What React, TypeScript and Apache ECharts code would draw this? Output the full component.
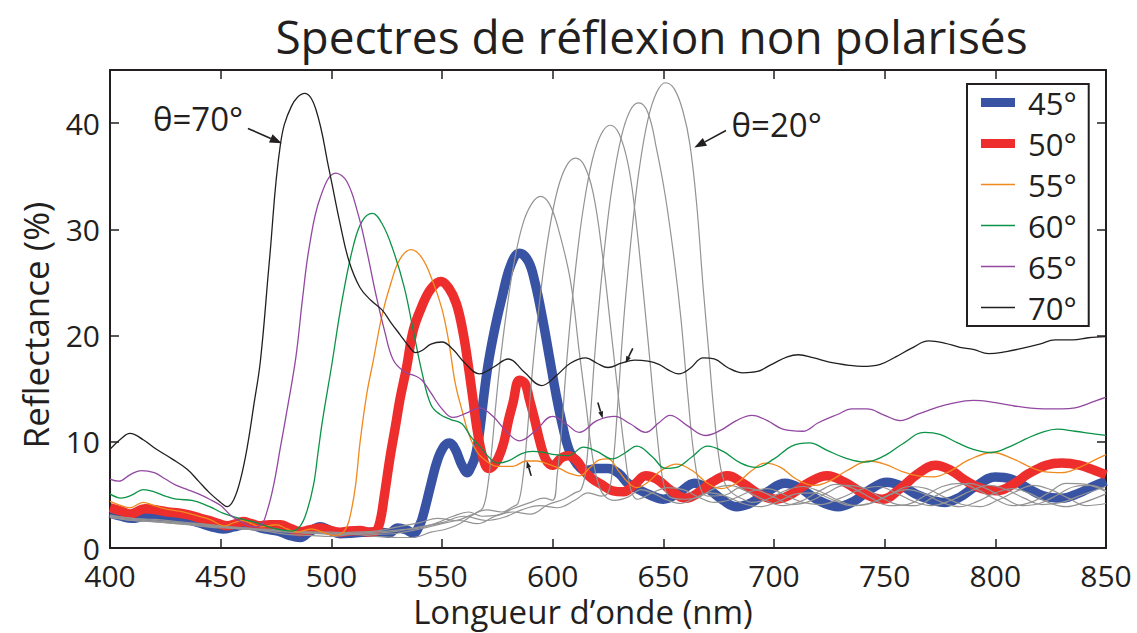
import React, { useEffect, useRef } from "react";
import * as echarts from "echarts";

const FONT = "'Open Sans', 'Noto Sans', 'DejaVu Sans', sans-serif";
const INK = "#231f20";

const titleText = "Spectres de réflexion non polarisés";
const xName = "Longueur d’onde (nm)";
const yName = "Reflectance (%)";
const xTickValues = [400, 450, 500, 550, 600, 650, 700, 750, 800, 850];
const yTickValues = [0, 10, 20, 30, 40];
const yMax = 45;
const legendLabels = ["45°", "50°", "55°", "60°", "65°", "70°"];
const grayLabels = ["20°", "25°", "30°", "35°", "40°"];

type P = [number, number];

const r45: P[] = [[400,3.3],[405,3.0],[410,2.8],[416,3.0],[422,2.9],[428,2.8],[433,2.75],[440,2.4],[446,2.0],[451,1.8],[456,2.0],[461,2.2],[465,2.1],[470,1.8],[476,1.6],[481,1.2],[486,1.0],[490,1.5],[495,2.0],[499,1.7],[504,1.35],[509,1.4],[514,1.5],[518,1.5],[522,1.5],[526,1.4],[530,1.9],[534,1.7],[537,1.4],[540,2.2],[542,3.5],[545,6.0],[548,8.3],[551,9.6],[553.5,9.9],[556,9.3],[559,7.8],[561.5,7.1],[563,7.6],[565,8.6],[567,11.0],[569,14.5],[571,17.5],[574,20.8],[577,23.5],[581,26.6],[585,27.75],[589,27.0],[592,25.0],[595.5,21.5],[598.5,18],[601.5,14.5],[604.5,11.5],[607.5,9.2],[611,7.9],[615,7.3],[620,7.5],[625,7.5],[630,7.0],[634,6.1],[639,5.5],[644,5.0],[650,4.6],[657,5.2],[664,6.1],[670,5.6],[677,4.5],[683,3.9],[690,4.3],[697,5.3],[705,6.1],[712,5.6],[720,4.5],[729,3.9],[736,4.4],[744,5.6],[751,6.2],[758,5.8],[766,4.9],[777,4.3],[784,4.8],[791,5.8],[800,6.7],[807,6.5],[815,5.6],[822,4.9],[830,4.7],[838,5.2],[844,5.8],[850,6.3]];

const r50: P[] = [[400,3.8],[405,3.5],[409,3.2],[416,3.7],[421,3.6],[426,3.4],[431,3.3],[436,3.1],[441,2.8],[445,2.6],[449,2.3],[453,2.1],[457,2.3],[460,2.5],[464,2.3],[468,2.1],[472,2.2],[477,2.2],[481,1.9],[486,1.55],[490,1.7],[495,1.9],[499,1.7],[504,1.5],[508,1.6],[513,1.65],[517,1.5],[520,1.6],[522,2.5],[524,5],[526.5,8.5],[529,11.5],[531,14],[534,17],[537,20.5],[541,22.8],[545,24.4],[549.5,25.1],[553,24.5],[556.5,23],[559.5,20.3],[562,17],[564,14],[566,11],[568.5,8.5],[571,7.5],[573,7.7],[575.5,8.5],[578,10],[580,12],[582,13.6],[585,15.8],[587.5,15.5],[589.5,14],[592,12],[594,10.2],[597,8.3],[600,7.8],[604,8.5],[607,8.7],[611,8.2],[614,7.3],[618,6.5],[622,6.0],[627,5.4],[632,5.3],[637,6.0],[642,6.8],[647,6.5],[653,5.5],[660,4.7],[665,5.1],[672,6.2],[679,6.8],[686,6.1],[694,5.0],[701,4.6],[708,5.1],[716,6.2],[724,6.8],[732,6.2],[740,5.2],[749,4.6],[757,5.6],[765,7.0],[773,7.8],[780,7.3],[787,6.3],[794,5.6],[801,5.4],[808,6.0],[815,7.0],[823,7.8],[830,8.0],[838,7.8],[845,7.3],[850,6.9]];

const r55: P[] = [[400,4.4],[405,4.0],[409,3.8],[415,4.3],[420,4.0],[425,3.7],[433,3.4],[440,3.0],[445,2.7],[452,2.1],[456,2.4],[460,2.6],[464,2.3],[468,2.0],[475,2.2],[480,1.8],[484,1.5],[491,1.8],[496,1.5],[501,1.2],[504,1.3],[507,2.0],[509,3.5],[511,6],[513,10],[516,14.5],[519,17.7],[523,22.0],[527,25],[531,27.2],[536,28.1],[541,27.3],[546,25.0],[550,22.5],[553,19.5],[556,15.5],[559,13],[562,10.8],[566,9.0],[570,8.2],[575,7.7],[582,7.7],[588,8.2],[593,8.2],[598,7.9],[603,7.5],[608,7.0],[612,6.8],[617,7.6],[621,8.3],[625,8.4],[630,7.2],[634,6.2],[638,5.7],[643,6.2],[649,7.3],[656,7.9],[663,7.3],[670,6.1],[676,5.6],[683,6.1],[690,7.3],[696,8.0],[703,7.6],[710,6.5],[718,5.9],[725,6.3],[733,7.3],[743,8.2],[750,7.9],[758,7.2],[765,6.8],[772,6.7],[780,7.3],[788,8.3],[799,9.0],[808,8.4],[815,7.7],[822,7.2],[830,7.1],[838,7.6],[845,8.3],[850,8.8]];

const r60: P[] = [[400,5.1],[405,4.7],[410,5.0],[415,5.5],[420,5.3],[425,4.9],[430,4.6],[437,4.5],[445,3.9],[451,3.3],[460,2.7],[466,2.4],[475,1.8],[482,1.6],[486,2.1],[489,3.5],[492,6.0],[494,9.0],[496,12],[500,17],[505,23.5],[510,28.5],[514,30.8],[518.5,31.5],[523,30.5],[528,28],[533,24.5],[537,20.5],[541,16.5],[545,13.5],[549,12.6],[554,12.1],[559,11.7],[563,10.5],[567,9.6],[571,8.6],[575,8.0],[580,8.2],[586,8.9],[591,9.1],[596,9.0],[601,8.8],[607,8.7],[614,9.5],[620,9.1],[627,8.4],[633,9.0],[638,9.6],[645,8.6],[651,7.5],[656,7.6],[663,8.6],[670,9.6],[677,9.1],[685,8.0],[692,7.6],[700,8.4],[708,9.6],[716,9.9],[724,9.2],[732,8.5],[741,8.1],[750,8.7],[758,9.8],[768,10.9],[775,10.7],[783,9.9],[790,9.3],[798,9.0],[806,9.5],[814,10.3],[821,10.9],[828,11.2],[836,11.0],[843,10.8],[850,10.6]];

const r65: P[] = [[400,6.5],[404,6.3],[409,6.9],[414,7.3],[420,7.1],[425,6.5],[430,5.9],[435,5.5],[440,5.1],[445,4.6],[450,4.0],[455,3.0],[460,2.4],[465,2.0],[468,2.1],[471,3.5],[474,6.0],[477,9.5],[480,13],[484,18],[487,23.5],[490,28.3],[495,33],[502,35.3],[507,34.5],[512,31.5],[516,28],[520,24],[524,20.5],[528,17.7],[533,16.6],[538,16.2],[541,15.8],[545,14.6],[550,13.1],[555,12.3],[561,12.7],[567,13.2],[573,12.4],[579,11.0],[585,10.1],[592,11.0],[600,12.4],[606,11.7],[612,10.9],[620,12.0],[628,12.4],[635,11.7],[642,10.9],[648,11.8],[653,12.5],[661,11.5],[669,10.6],[676,11.1],[683,12.0],[690,12.5],[697,12.0],[704,11.2],[713,11.0],[720,11.8],[729,12.6],[735,13.1],[742,13.1],[750,12.5],[757,12.0],[765,12.6],[773,13.2],[780,13.6],[790,13.9],[800,13.7],[808,13.4],[815,13.2],[822,13.1],[830,13.1],[836,13.2],[842,13.6],[850,14.2]];

const r70: P[] = [[400,9.3],[405,10.3],[409,10.8],[415,10.2],[421,9.3],[428,8.4],[435,7.4],[440,6.3],[445,5.2],[450,4.3],[453,3.9],[456,4.6],[459,6.5],[462,9.5],[465,13.5],[468,17.7],[472,27],[477,38],[482,41.6],[488,42.8],[493,41.3],[499,35.6],[504,30.5],[508,27],[513,24.5],[518,23.3],[523,22.4],[527,21.2],[531,20.1],[535,19.0],[538,18.4],[541,18.6],[545,19.2],[550,19.4],[555,18.7],[560,17.5],[567,16.4],[573,17.0],[580,17.8],[587,16.6],[595,15.3],[602,16.3],[608,17.4],[615,17.9],[620,17.4],[625,17.0],[631,17.4],[637,17.7],[643,17.6],[648,17.3],[652,16.8],[657,16.4],[662,16.9],[668,17.9],[673,17.8],[679,17.0],[686,16.5],[692,16.6],[699,17.3],[706,18.0],[711,18.2],[718,17.9],[725,17.5],[734,17.2],[740,17.1],[748,17.3],[755,18.0],[762,18.8],[770,19.5],[777,19.3],[784,18.9],[790,18.7],[797,18.3],[805,18.5],[812,18.8],[820,19.2],[827,19.6],[835,19.6],[842,19.8],[850,19.9]];

const r40: P[] = [[400,3.1],[410,2.8],[420,2.7],[430,2.5],[440,2.3],[450,2.0],[460,1.8],[470,1.6],[480,1.3],[490,1.2],[500,1.1],[510,1.3],[520,1.1],[530,1.0],[537,1.0],[545,1.5],[552,1.8],[558,2.3],[563,3.0],[566,3.4],[568.5,3.8],[570.5,5.6],[572.5,9.3],[574.5,13.9],[576.5,17.9],[579.5,22.8],[582.5,26.8],[586.5,30.5],[590.5,32.4],[594.5,33.1],[598.5,32.4],[602.5,30.1],[608,25.2],[612,18.5],[615,13.6],[618,8.6],[621,5.8],[624,4.8],[628,4.5],[634,4.8],[640,5.5],[646,5.1],[652,4.5],[658,4.2],[664,4.7],[671,5.2],[678,4.9],[686,4.2],[694,3.9],[702,4.4],[710,5.1],[718,5.2],[726,4.6],[735,4.0],[743,4.2],[752,5.0],[760,5.5],[768,5.1],[776,4.3],[784,3.9],[792,4.4],[800,5.2],[808,5.6],[816,5.1],[824,4.3],[832,3.9],[840,4.3],[850,5.1]];

const r35: P[] = [[400,3.0],[410,2.6],[420,2.5],[430,2.4],[440,2.1],[450,1.9],[460,1.9],[470,1.7],[480,1.5],[490,1.4],[500,1.4],[510,1.5],[520,1.6],[530,2.0],[540,2.4],[548,2.8],[556,2.6],[563,3.1],[570,3.6],[577,3.4],[582,3.9],[584.3,4.2],[586.3,6.2],[588.3,10.3],[590.3,15.4],[592.3,19.8],[595.3,25.3],[598.3,29.7],[602.3,33.8],[606.3,36.0],[610.3,36.7],[614.3,36.0],[618.3,33.4],[622.3,27.9],[626.3,20.6],[629.3,15.0],[632.3,9.5],[635.3,5.5],[638.3,4.6],[645,5.2],[652,5.7],[659,5.5],[666,4.8],[673,4.3],[681,4.6],[689,5.3],[697,5.6],[705,5.0],[713,4.3],[721,4.1],[730,4.7],[739,5.5],[747,5.8],[755,5.2],[763,4.4],[771,4.0],[780,4.5],[789,5.4],[797,5.9],[805,5.5],[813,4.7],[821,4.1],[830,4.3],[839,5.0],[850,5.8]];

const r30: P[] = [[400,2.9],[410,2.7],[420,2.5],[430,2.3],[440,2.2],[450,2.0],[460,1.8],[470,1.8],[480,1.6],[490,1.5],[500,1.5],[510,1.4],[520,1.5],[530,1.7],[540,1.9],[548,2.4],[555,3.0],[562,3.4],[568,3.0],[575,3.1],[582,3.7],[590,4.3],[596,4.7],[600,4.5],[602,6.8],[604,11.1],[606,16.7],[608,21.5],[611,27.5],[614,32.2],[618,36.6],[622,39.0],[626,39.8],[630,39.0],[634,36.2],[637,32.0],[641,24.0],[644,17.5],[647,11.0],[650,6.2],[653,4.8],[660,4.6],[666,4.8],[673,5.6],[680,5.9],[688,5.3],[696,4.5],[704,4.0],[712,4.4],[720,5.3],[728,6.0],[736,5.6],[744,4.7],[752,4.0],[760,4.1],[768,4.9],[776,5.8],[784,6.1],[792,5.5],[800,4.6],[808,4.0],[816,4.3],[824,5.2],[832,6.1],[841,6.0],[850,5.3]];

const r25: P[] = [[400,3.0],[410,2.8],[420,2.6],[430,2.4],[440,2.3],[450,2.1],[460,1.9],[470,1.7],[480,1.6],[490,1.5],[500,1.4],[510,1.4],[520,1.3],[530,1.4],[540,1.8],[550,2.3],[558,2.6],[566,2.3],[574,3.0],[582,3.4],[590,3.2],[598,4.1],[605,4.6],[610,5.2],[612.8,5.5],[614.8,7.1],[616.8,11.7],[618.8,17.6],[620.8,22.6],[623.8,28.9],[626.8,33.9],[630.8,38.5],[634.8,41.1],[638.8,41.9],[643,41.0],[647,37.5],[651,33.0],[655,27.0],[658,21.5],[661,14.5],[664,8.5],[667,5.5],[670,4.9],[678,5.0],[685,5.7],[692,5.5],[700,4.8],[708,4.1],[716,4.4],[724,5.2],[732,5.9],[740,5.7],[748,4.8],[756,4.1],[764,4.0],[772,4.8],[780,5.6],[788,6.1],[796,5.6],[804,4.7],[812,4.0],[820,4.2],[828,5.0],[836,5.8],[843,5.9],[850,5.4]];

const r20: P[] = [[400,2.9],[410,2.6],[420,2.5],[430,2.3],[440,2.1],[450,2.0],[460,1.8],[470,1.7],[480,1.6],[490,1.4],[500,1.3],[510,1.3],[520,1.4],[530,1.6],[540,2.0],[550,2.4],[560,3.0],[570,2.6],[578,2.9],[586,3.6],[594,4.0],[602,3.8],[610,4.5],[616,5.2],[622,4.9],[625,5.2],[627,7.4],[629,12.3],[631,18.4],[633,23.7],[636,30.2],[639,35.5],[643,40.3],[647,42.9],[651,43.8],[655,43.2],[659,41.0],[662,38.0],[665,32.5],[668,24.5],[670.5,18.5],[673,12.5],[675.5,8.0],[678,6.0],[681,5.2],[686,4.6],[690,4.3],[697,4.6],[705,5.4],[713,5.8],[721,5.3],[729,4.5],[737,4.0],[745,4.3],[753,5.1],[761,5.8],[769,5.6],[777,4.8],[785,4.1],[793,3.9],[801,4.5],[809,5.3],[817,5.9],[825,5.5],[833,4.7],[841,4.0],[850,4.2]];

// Annotation anchors in data coordinates
const labelNotes: { text: string; at: P }[] = [
  { text: "θ=70°", at: [439.8, 40.4] },
  { text: "θ=20°", at: [701.2, 39.9] },
];
const arrowNotes: { from: P; to: P; head: number; w: number }[] = [
  { from: [462.3, 39.5], to: [477.6, 38.1], head: 12, w: 9 },
  { from: [678.3, 39.3], to: [664.0, 37.7], head: 12, w: 9 },
  { from: [636.2, 18.8], to: [632.9, 17.4], head: 7, w: 5 },
  { from: [620.4, 13.7], to: [622.6, 12.2], head: 7, w: 5 },
  { from: [590.3, 6.8], to: [588.3, 8.2], head: 7, w: 5 },
];

const COLORS = {
  b45: "#3853a4",
  r50: "#ee2d2d",
  o55: "#f0891e",
  g60: "#0b9347",
  p65: "#9247a1",
  k70: "#231f20",
  gray: "#939393",
};

// legend glyphs (34 x 10 boxes): thick band and thin line
const ICON_THICK = "path://M0,0M0,0.6L34,0.6L34,9.4L0,9.4ZM34,10";
const ICON_THIN = "path://M0,0M0,4.35L34,4.35L34,5.65L0,5.65ZM34,10";

export default function App() {
  const ref = useRef<HTMLDivElement>(null);
  useEffect(() => {
    if (!ref.current) return;
    const chart = echarts.init(ref.current, null, { renderer: "svg" });
    const thick = 9.5;
    const thin = 1.3;
    const mk = (name: string, data: P[], color: string, width: number) => ({
      name,
      type: "line",
      data,
      symbol: "none",
      showSymbol: false,
      smooth: 0.4,
      color,
      itemStyle: { color },
      lineStyle: { color, width },
      emphasis: { disabled: true },
    });
    const grayData = [r20, r25, r30, r35, r40];
    const series: any[] = [
      mk(legendLabels[0], r45, COLORS.b45, thick),
      mk(legendLabels[1], r50, COLORS.r50, thick),
      ...grayData.map((d, i) => mk(grayLabels[i], d, COLORS.gray, 1.2)),
      mk(legendLabels[2], r55, COLORS.o55, thin),
      mk(legendLabels[3], r60, COLORS.g60, thin),
      mk(legendLabels[4], r65, COLORS.p65, thin),
      mk(legendLabels[5], r70, COLORS.k70, thin),
    ];
    const xMin = xTickValues[0];
    const xMax = xTickValues[xTickValues.length - 1];
    const xInt = xTickValues[1] - xTickValues[0];
    const yInt = yTickValues[1] - yTickValues[0];
    const axisLine = { show: true, onZero: false, lineStyle: { color: INK, width: 2 } };
    const axisTick = { show: true, inside: true, length: 9, lineStyle: { color: INK, width: 1.5 } };
    chart.setOption({
      animation: false,
      grid: { left: 110, right: 31, top: 70, bottom: 84, containLabel: false },
      xAxis: [
        {
          type: "value", min: xMin, max: xMax, interval: xInt, position: "bottom",
          axisLine, axisTick, splitLine: { show: false },
          axisLabel: { fontSize: 30, lineHeight: 24, color: INK, fontFamily: FONT, margin: 15 },
          name: xName, nameLocation: "middle", nameGap: 41,
          nameTextStyle: { fontSize: 33, lineHeight: 26, color: INK, fontFamily: FONT, padding: [0, 50, 0, 0] },
        },
        {
          type: "value", min: xMin, max: xMax, interval: xInt, position: "top",
          axisLine, axisTick, splitLine: { show: false }, axisLabel: { show: false },
        },
      ],
      yAxis: [
        {
          type: "value", min: yTickValues[0], max: yMax, interval: yInt, position: "left",
          axisLine, axisTick, splitLine: { show: false },
          axisLabel: { fontSize: 30, lineHeight: 24, color: INK, fontFamily: FONT, margin: 10, showMaxLabel: false },
        },
        {
          type: "value", min: yTickValues[0], max: yMax, interval: yInt, position: "right",
          axisLine, axisTick, splitLine: { show: false }, axisLabel: { show: false },
        },
      ],
      legend: {
        data: legendLabels.map((n, i) => ({ name: n, icon: i < 2 ? ICON_THICK : ICON_THIN })),
        orient: "vertical",
        left: 967,
        top: 84,
        selectedMode: false,
        backgroundColor: "#ffffff",
        borderColor: INK,
        borderWidth: 2,
        borderRadius: 0,
        padding: [3, 12, 3, 14],
        itemWidth: 34,
        itemHeight: 10,
        itemGap: 10,
        symbolKeepAspect: false,
        itemStyle: { borderWidth: 0 },
        textStyle: { fontSize: 31, color: INK, fontFamily: FONT, padding: [0, 0, 0, 8] },
      },
      series,
    });

    const toPx = (p: P) => chart.convertToPixel({ xAxisIndex: 0, yAxisIndex: 0 }, p) as number[];
    const graphics: any[] = [
      {
        type: "text", x: 651.5, y: 36, z: 10,
        style: { text: titleText, fontSize: 46, fontFamily: FONT, fill: INK, align: "center", verticalAlign: "middle" },
      },
      {
        type: "text", x: 35, y: 325, rotation: Math.PI / 2, z: 10,
        style: { text: yName, fontSize: 35, fontFamily: FONT, fill: INK, align: "center", verticalAlign: "middle" },
      },
    ];
    labelNotes.forEach((n) => {
      const [x, y] = toPx(n.at);
      graphics.push({
        type: "text", x, y, z: 10,
        style: { text: n.text, fontSize: 33, fontFamily: FONT, fill: INK, align: "center", verticalAlign: "middle" },
      });
    });
    arrowNotes.forEach((a) => {
      const [x1, y1] = toPx(a.from);
      const [x2, y2] = toPx(a.to);
      const L = Math.hypot(x2 - x1, y2 - y1);
      const dx = (x2 - x1) / L, dy = (y2 - y1) / L;
      const bx = x2 - dx * a.head, by = y2 - dy * a.head;
      const nx = -dy, ny = dx;
      graphics.push({
        type: "line", z: 10,
        shape: { x1, y1, x2: bx, y2: by },
        style: { stroke: INK, lineWidth: 1.6 },
      });
      graphics.push({
        type: "polygon", z: 10,
        shape: { points: [[x2, y2], [bx + nx * a.w / 2, by + ny * a.w / 2], [bx - nx * a.w / 2, by - ny * a.w / 2]] },
        style: { fill: INK },
      });
    });
    chart.setOption({ graphic: graphics });
    return () => chart.dispose();
  }, []);
  return (
    <div
      ref={ref}
      style={{ position: "fixed", left: 0, top: 0, width: 1137, height: 633, background: "#fff" }}
    />
  );
}
